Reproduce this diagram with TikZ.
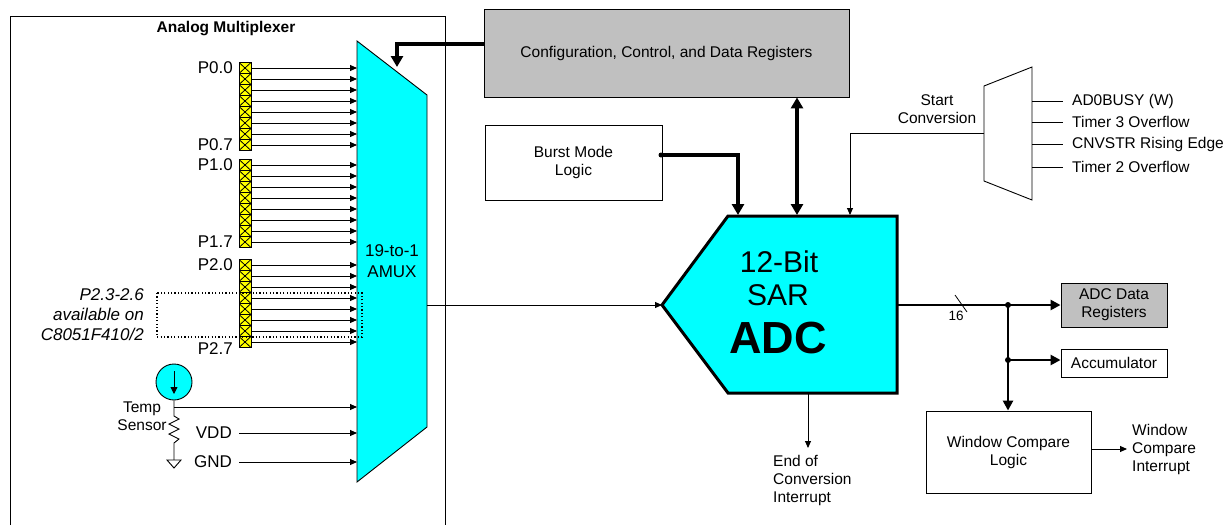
\documentclass[tikz,border=0pt]{standalone}
\usepackage{fontspec}
\setmainfont{Liberation Sans}
\usetikzlibrary{arrows.meta,calc}
\definecolor{adccyan}{RGB}{0,255,255}
\definecolor{reggray}{RGB}{192,192,192}
\definecolor{pinyellow}{RGB}{255,255,0}
\newcommand{\fsn}{\fontsize{15.5}{18}\selectfont}
\newcommand{\fpin}{\fontsize{17}{20}\selectfont}
\tikzset{
  thinline/.style={line width=0.9pt},
  thinarrow/.style={line width=0.9pt,-{Triangle[length=7pt,width=6pt]}},
  thickarrow/.style={line width=3.5pt,-{Triangle[length=11pt,width=12pt]}},
  busarrow/.style={line width=2.6pt,-{Triangle[length=10pt,width=10pt]}},
  blockbox/.style={draw,line width=0.9pt,inner sep=0pt,align=center,font=\fsn},
  lbl/.style={font=\fsn,inner sep=0pt,align=center},
  pinlbl/.style={font=\fpin,inner sep=0pt,anchor=east},
  pinsq/.style={draw,line width=0.8pt,fill=pinyellow,minimum width=12pt,minimum height=11pt,inner sep=0pt,
    path picture={\draw[line width=0.8pt] (path picture bounding box.north west) -- (path picture bounding box.south east)
      (path picture bounding box.south west) -- (path picture bounding box.north east);}},
  jdot/.style={circle,fill=black,inner sep=0pt,minimum size=6pt},
}
\begin{document}
\begin{tikzpicture}[x=1pt,y=-1pt]
\useasboundingbox (0,0) rectangle (1231,525);
\fill[white] (0,0) rectangle (1231,525);

% Analog multiplexer frame
\draw[thinline] (10,525) -- (10,16) -- (445,16) -- (445,525);
\node[font=\bfseries\fontsize{15.5}{18}\selectfont,inner sep=0pt] (amtitle) at (226,29) {Analog Multiplexer};

% AMUX trapezoid
\draw[fill=adccyan,thinline] (357,41) -- (427,95) -- (427,427) -- (357,482) -- cycle;
\node[font=\fontsize{17}{21}\selectfont,inner sep=0pt,align=center] (amux) at (392,261) {19-to-1\\AMUX};
\coordinate (amuxout) at (427,305);
\coordinate (amuxctl) at (397,67);

% Pins
\foreach \g/\y in {0/68,1/165,2/265} {
  \foreach \i in {0,...,7} {
    \pgfmathsetmacro\yy{\y+11*\i}
    \node[pinsq] (p\g\i) at (245,\yy) {};
    \coordinate (m\g\i) at (357,\yy);
    \draw[thinarrow] (p\g\i.east) -- (m\g\i);
  }
}
\node[pinlbl] (l00) at (233,68) {P0.0};
\node[pinlbl] (l07) at (233,145) {P0.7};
\node[pinlbl] (l10) at (233,165) {P1.0};
\node[pinlbl] (l17) at (233,242) {P1.7};
\node[pinlbl] (l20) at (233,265) {P2.0};
\node[pinlbl] (l27) at (233,349) {P2.7};

% dotted box
\draw[line width=1.1pt,dash pattern=on 1.2pt off 2.2pt] (157,293) rectangle (362,337);
\node[font=\itshape\fontsize{17}{20}\selectfont,inner sep=0pt,align=right,anchor=east] (avail) at (144,315) {P2.3-2.6\\available on\\C8051F410/2};

% Temp sensor
\node[circle,draw,thinline,fill=adccyan,minimum size=36pt,inner sep=0pt] (tsens) at (174,382) {};
\draw[line width=0.9pt,-{Triangle[length=7pt,width=7pt]}] (174,371) -- (174,394);
\coordinate (tj) at (174,407);
\coordinate (tin) at (357,407);
\draw[thinline] (tsens.south) -- (174,416) -- (179,419) -- (169,424) -- (179,429) -- (169,434) -- (179,439) -- (174,443) -- (174,460);
\draw[thinline,fill=white] (167,460) -- (181,460) -- (174,468) -- cycle;
\draw[thinarrow] (tj) -- (tin);
\node[lbl] (tlbl) at (142,416) {Temp\\Sensor};
\node[pinlbl] (vdd) at (232,433) {VDD};
\node[pinlbl] (gnd) at (232,462) {GND};
\coordinate (vddin) at (357,433);
\coordinate (gndin) at (357,462);
\draw[thinarrow] ([xshift=7pt]vdd.east) -- (vddin);
\draw[thinarrow] ([xshift=7pt]gnd.east) -- (gndin);

% Config registers
\node[blockbox,fill=reggray,minimum width=365pt,minimum height=88pt] (cfg) at (666.5,53) {Configuration, Control, and Data Registers};
\draw[thickarrow] ([yshift=9pt]cfg.west) -- (397,44) -- (amuxctl);

% Burst mode
\node[blockbox,minimum width=177pt,minimum height=75pt] (burst) at (573.5,162.5) {Burst Mode\\Logic};

% ADC
\draw[fill=adccyan,line width=3pt,line join=miter] (728,216) -- (897,216) -- (897,393) -- (728,393) -- (662,305) -- cycle;
\node[font=\fontsize{30}{34}\selectfont,inner sep=0pt] (adc1) at (779,262) {12-Bit};
\node[font=\fontsize{30}{34}\selectfont,inner sep=0pt] (adc2) at (778,295) {SAR};
\node[font=\bfseries\fontsize{45}{50}\selectfont,inner sep=0pt] (adc3) at (778,338) {ADC};
\coordinate (adcin) at (662,305);
\coordinate (adcout) at (897,305);
\coordinate (adctop1) at (738,215);
\coordinate (adctop2) at (797,215);
\coordinate (adctop3) at (850,215);
\coordinate (adcbot) at (808,393);

\node[jdot,minimum size=5pt] (bdot) at (661,155) {};
\draw[thickarrow] (bdot.center) -- (738,155) -- (adctop1);
\draw[line width=3.5pt,{Triangle[length=11pt,width=12pt]}-{Triangle[length=11pt,width=12pt]}] (cfg.south -| adctop2) -- (adctop2);
\draw[thinarrow] (amuxout) -- (adcin);

% Start conversion mux
\draw[thinline] (984,86) -- (1032,67) -- (1032,200) -- (984,181) -- cycle;
\coordinate (smuxout) at (984,133);
\draw[thinarrow] (smuxout) -- (850,133) -- (adctop3);
\node[lbl] (startc) at (937,109.5) {Start\\Conversion};
\foreach \y/\t [count=\k] in {101/AD0BUSY (W),122/Timer 3 Overflow,144/CNVSTR Rising Edge,167/Timer 2 Overflow} {
  \coordinate (si\k) at (1032,\y);
  \node[lbl,anchor=west] (st\k) at (1072,\y) {\t};
  \draw[thinline] (si\k) -- (1063,\y);
}

% Output side
\node[blockbox,fill=reggray,minimum width=106pt,minimum height=44pt] (adcdata) at (1114,305) {ADC Data\\Registers};
\node[blockbox,minimum width=106pt,minimum height=28pt] (accum) at (1114,363) {Accumulator};
\node[blockbox,minimum width=165pt,minimum height=82pt] (wcl) at (1008.5,452) {Window Compare\\Logic};
\node[jdot] (j1) at (1008,305) {};
\node[jdot] (j2) at (1008,360) {};
\draw[busarrow] (adcout) -- (adcdata.west);
\draw[busarrow] (j1.center) -- (wcl.north -| j1);
\draw[busarrow] (j2.center) -- (accum.west |- j2);
\draw[line width=0.8pt] (955,295) -- (967,312);
\node[font=\fontsize{13.5}{16}\selectfont,inner sep=0pt] (bus16) at (956,316) {16};

\node[lbl,align=left,anchor=west] (wci) at (1132,449) {Window\\Compare\\Interrupt};
\draw[thinarrow] (wcl.east |- wci) -- ([xshift=-5pt]wci.west);

\node[lbl,align=left,anchor=west] (eoc) at (773,480) {End of\\Conversion\\Interrupt};
\draw[thinarrow] (adcbot) -- (808,448);
\end{tikzpicture}
\end{document}
